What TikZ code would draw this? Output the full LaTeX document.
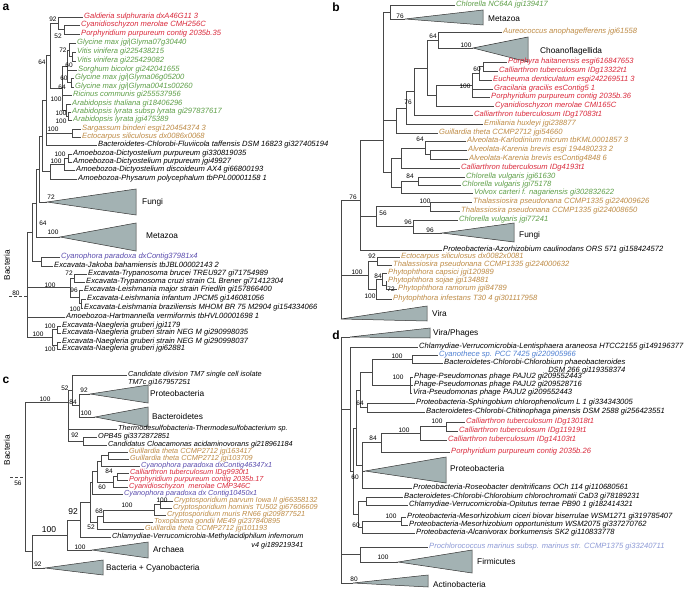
\documentclass[tikz,border=0pt]{standalone}
\usepackage{fontspec}
\setsansfont{Liberation Sans}
\usepackage{xcolor}
\definecolor{tred}{HTML}{DA2A3C}
\definecolor{tgreen}{HTML}{5E9F48}
\definecolor{ttan}{HTML}{BE8B45}
\definecolor{tviolet}{HTML}{5B4DAE}
\definecolor{tblue}{HTML}{4F80D2}
\definecolor{tpale}{HTML}{8D9AD6}
\definecolor{trifill}{HTML}{A3B2B3}
\newcommand{\kids}[2]{\foreach \k in {#2}{\draw[br] (#1) |- (\k);}}
\newcommand{\clade}[5]{\coordinate (#1) at (#2);
  \filldraw[tri] (#1) -- ++(#3,-#4) -- ++(0,#4+#5) -- cycle;}
\newcommand{\bs}[3]{\node[bsv] (#1) at (#2) {#3};}
\begin{document}
\begin{tikzpicture}[x=1pt, y=-1pt,
  br/.style={draw=black!72, line width=0.5pt},
  tri/.style={fill=trifill, draw=black!80, line width=0.5pt},
  leaf/.style={anchor=west, inner xsep=1pt, inner ysep=0pt, text height=5.2pt, text depth=1.4pt,
    font=\sffamily\itshape\fontsize{7.6}{8.5}\selectfont},
  leafc/.style={leaf, text height=5pt, text depth=1.3pt,
    font=\sffamily\itshape\fontsize{7.3}{8}\selectfont},
  grp/.style={anchor=west, inner sep=1pt, font=\sffamily\fontsize{8.3}{9}\selectfont},
  bsv/.style={inner sep=0pt, font=\sffamily\fontsize{6.5}{7}\selectfont},
  bsbig/.style={inner sep=0pt, font=\sffamily\fontsize{8.5}{9}\selectfont},
  plab/.style={inner sep=0pt, font=\sffamily\bfseries\fontsize{12}{12}\selectfont},
  outg/.style={inner sep=0pt, rotate=90, font=\sffamily\fontsize{8.2}{9}\selectfont}]
\fill[white] (0,0) rectangle (685,591);
\useasboundingbox (0,0) rectangle (685,591);

% panel a
\node[plab] (la) at (6,7) {a};
\node[leaf, text=tred] (a1) at (83,17) {Galdieria sulphuraria dxA46G11 3};
\node[leaf, text=tred] (a2) at (80,25) {Cyanidioschyzon merolae CMH256C};
\node[leaf, text=tred] (a3) at (80,34) {Porphyridium purpureum contig 2035b.35};
\node[leaf, text=tgreen] (a4) at (76,43) {Glycine max jgi|Glyma07g30440};
\node[leaf, text=tgreen] (a5) at (76,52) {Vitis vinifera gi225438215};
\node[leaf, text=tgreen] (a6) at (76,61) {Vitis vinifera gi225429082};
\node[leaf, text=tgreen] (a7) at (77,70) {Sorghum bicolor gi242041655};
\node[leaf, text=tgreen] (a8) at (74,78) {Glycine max jgi|Glyma06g05200};
\node[leaf, text=tgreen] (a9) at (74,87) {Glycine max jgi|Glyma0041s00260};
\node[leaf, text=tgreen] (a10) at (72,95) {Ricinus communis gi255537956};
\node[leaf, text=tgreen] (a11) at (71,104) {Arabidopsis thaliana gi18406296};
\node[leaf, text=tgreen] (a12) at (71,112) {Arabidopsis lyrata subsp lyrata gi297837617};
\node[leaf, text=tgreen] (a13) at (72,120) {Arabidopsis lyrata jgi475389};
\node[leaf, text=ttan] (a14) at (81,129) {Sargassum binderi esgi120454374 3};
\node[leaf, text=ttan] (a15) at (81,137) {Ectocarpus siliculosus dx0086x0068};
\node[leaf] (a16) at (97,145) {Bacteroidetes-Chlorobi-Fluviicola taffensis DSM 16823 gi327405194};
\node[leaf] (a17) at (72,154) {Amoebozoa-Dictyostelium purpureum gi330819035};
\node[leaf] (a18) at (72,162) {Amoebozoa-Dictyostelium purpureum jgi49927};
\node[leaf] (a19) at (75,170) {Amoebozoa-Dictyostelium discoideum AX4 gi66800193};
\node[leaf] (a20) at (77,179) {Amoebozoa-Physarum polycephalum tbPPL00001158 1};
\clade{aFun}{47,202}{89}{13}{13}
\node[grp] (aFunL) at (141,202) {Fungi};
\clade{aMet}{60,237}{76}{14}{14}
\node[grp] (aMetL) at (145,236) {Metazoa};
\node[leaf, text=tviolet] (a21) at (60,257) {Cyanophora paradoxa dxContig37981x4};
\node[leaf] (a22) at (53,266) {Excavata-Jakoba bahamiensis tbJBL00002143 2};
\node[leaf] (a23) at (87,274) {Excavata-Trypanosoma brucei TREU927 gi71754989};
\node[leaf] (a24) at (85,282) {Excavata-Trypanosoma cruzi strain CL Brener gi71412304};
\node[leaf] (a25) at (83,290) {Excavata-Leishmania major strain Friedlin gi157866400};
\node[leaf] (a26) at (86,299) {Excavata-Leishmania infantum JPCM5 gi146081056};
\node[leaf] (a27) at (83,308) {Excavata-Leishmania braziliensis MHOM BR 75 M2904 gi154334066};
\node[leaf] (a28) at (65,317) {Amoebozoa-Hartmannella vermiformis tbHVL00001698 1};
\node[leaf] (a29) at (61,326) {Excavata-Naegleria gruberi jgi1179};
\node[leaf] (a30) at (61,333) {Excavata-Naegleria gruberi strain NEG M gi290998035};
\node[leaf] (a31) at (61,342) {Excavata-Naegleria gruberi strain NEG M gi290998037};
\node[leaf] (a32) at (61,349) {Excavata-Naegleria gruberi jgi62881};
\node[outg] (aOutL) at (7,265) {Bacteria};
\coordinate (aR52) at (64,29.5);
\coordinate (aR92) at (58,23);
\coordinate (aG1) at (72,56.5);
\coordinate (aG2) at (69,50);
\coordinate (aG3) at (71,82.5);
\coordinate (aG4) at (67,66);
\coordinate (aA1) at (68,116);
\coordinate (aA2) at (66,110);
\coordinate (aG5) at (62,88);
\coordinate (aRG) at (50,55.5);
\coordinate (aBr) at (72,133);
\coordinate (aU1) at (46,100);
\coordinate (aD1) at (68,158);
\coordinate (aD2) at (64,164);
\coordinate (aD3) at (50,171.5);
\coordinate (aU2) at (42,136);
\coordinate (aU3) at (39,169);
\coordinate (aU4) at (36,203);
\coordinate (aCJ) at (41,261.5);
\coordinate (aU5) at (32,232);
\coordinate (aT1) at (74,278);
\coordinate (aL1) at (81,303.5);
\coordinate (aL2) at (79,297);
\coordinate (aT2) at (70,287.5);
\coordinate (aN1) at (57,329.5);
\coordinate (aN2) at (57,345.5);
\coordinate (aN3) at (52,337.5);
\coordinate (aRt) at (27,285);
\coordinate (aStub) at (27,296);
\coordinate (aOut) at (9,296);
\kids{aR52}{a2,a3}
\kids{aR92}{a1,aR52}
\kids{aG1}{a5,a6}
\kids{aG2}{a4,aG1}
\kids{aG3}{a8,a9}
\kids{aG4}{aG2,a7,aG3}
\kids{aA1}{a12,a13}
\kids{aA2}{a11,aA1}
\kids{aG5}{aG4,a10,aA2}
\kids{aRG}{aR92,aG5}
\kids{aBr}{a14,a15}
\kids{aU1}{aRG,aBr,a16}
\kids{aD1}{a17,a18}
\kids{aD2}{aD1,a19}
\kids{aD3}{aD2,a20}
\kids{aU2}{aU1,aD3}
\kids{aU3}{aU2,aFun}
\kids{aU4}{aU3,aMet}
\kids{aCJ}{a21,a22}
\kids{aU5}{aU4,aCJ}
\kids{aT1}{a23,a24}
\kids{aL1}{a26,a27}
\kids{aL2}{a25,aL1}
\kids{aT2}{aT1,aL2}
\kids{aN1}{a29,a30}
\kids{aN2}{a31,a32}
\kids{aN3}{aN1,aN2}
\kids{aRt}{aU5,aT2,a28,aN3}
\draw[br, densely dashed] (aOut) -- (aStub);
\bs{sa1}{53,19}{92}
\bs{sa2}{58,36}{52}
\bs{sa3}{42,62}{64}
\bs{sa4}{63,50}{72}
\bs{sa5}{69,65}{60}
\bs{sa6}{64,78}{60}
\bs{sa7}{62,87}{64}
\bs{sa8}{56,99}{100}
\bs{sa9}{61,113}{100}
\bs{sa10}{61,121}{100}
\bs{sa11}{53,129}{100}
\bs{sa12}{60,154}{100}
\bs{sa13}{56,161}{100}
\bs{sa14}{51,197}{72}
\bs{sa15}{43,223}{64}
\bs{sa16}{53,232}{100}
\bs{sa17}{69,273}{72}
\bs{sa18}{50,285}{100}
\bs{sa19}{74,290}{96}
\bs{sa20}{75,309}{100}
\bs{sa21}{50,326}{100}
\bs{sa22}{38,334}{100}
\bs{sa23}{50,349}{100}
\bs{sa24}{16,293}{80}

% panel b
\node[plab] (lb) at (336,7) {b};
\node[leaf, text=tgreen] (b1) at (455,5) {Chlorella NC64A jgi139417};
\clade{bMet}{405,19}{78}{9}{6}
\node[grp] (bMetL) at (487,19) {Metazoa};
\node[leaf, text=ttan] (b3) at (502,32) {Aureococcus anophagefferens jgi61558};
\clade{bCho}{473,48}{55}{11}{14}
\node[grp] (bChoL) at (539,51) {Choanoflagellida};
\node[leaf, text=tred] (b5) at (507,62) {Porphyra haitanensis esgi616847653};
\node[leaf, text=tred] (b6) at (498,71) {Calliarthron tuberculosum IDg13322t1};
\node[leaf, text=tred] (b7) at (492,80) {Eucheuma denticulatum esgi242269511 3};
\node[leaf, text=tred] (b8) at (493,89) {Gracilaria gracilis esContig5 1};
\node[leaf, text=tred] (b9) at (490,97) {Porphyridium purpureum contig 2035b.36};
\node[leaf, text=tred] (b10) at (494,106) {Cyanidioschyzon merolae CMI165C};
\node[leaf, text=tred] (b11) at (473,115) {Calliarthron tuberculosum IDg17083t1};
\node[leaf, text=ttan] (b12) at (483,124) {Emiliania huxleyi jgi238877};
\node[leaf, text=ttan] (b13) at (438,133) {Guillardia theta CCMP2712 jgi54660};
\node[leaf, text=ttan] (b14) at (466,141) {Alveolata-Karlodinium micrum tbKML0001857 3};
\node[leaf, text=ttan] (b15) at (467,150) {Alveolata-Karenia brevis esgi 194480233 2};
\node[leaf, text=ttan] (b16) at (468,159) {Alveolata-Karenia brevis esContig4848 6};
\node[leaf, text=tred] (b17) at (460,168) {Calliarthron tuberculosum IDg4193t1};
\node[leaf, text=tgreen] (b18) at (465,177) {Chlorella vulgaris jgi61630};
\node[leaf, text=tgreen] (b19) at (461,185) {Chlorella vulgaris jgi75178};
\node[leaf, text=tgreen] (b20) at (473,193) {Volvox carteri f. nagariensis gi302832622};
\node[leaf, text=ttan] (b21) at (472,202) {Thalassiosira pseudonana CCMP1335 gi224009626};
\node[leaf, text=ttan] (b22) at (460,211) {Thalassiosira pseudonana CCMP1335 gi224008650};
\node[leaf, text=tgreen] (b23) at (458,220) {Chlorella vulgaris jgi77241};
\clade{bFun}{442,233}{72}{10}{9}
\node[grp] (bFunL) at (518,235) {Fungi};
\node[leaf] (b25) at (442,250) {Proteobacteria-Azorhizobium caulinodans ORS 571 gi158424572};
\node[leaf, text=ttan] (b26) at (400,257) {Ectocarpus siliculosus dx0082x0081};
\node[leaf, text=ttan] (b27) at (392,265) {Thalassiosira pseudonana CCMP1335 gi224000632};
\node[leaf, text=ttan] (b28) at (387,273) {Phytophthora capsici jgi120989};
\node[leaf, text=ttan] (b29) at (387,281) {Phytophthora sojae jgi134881};
\node[leaf, text=ttan] (b30) at (397,289) {Phytophthora ramorum jgi84789};
\node[leaf, text=ttan] (b31) at (392,299) {Phytophthora infestans T30 4 gi301117958};
\clade{bVir}{341,319}{86}{13}{2}
\node[grp] (bVirL) at (431,314) {Vira};
\coordinate (bN76) at (390,12);
\coordinate (bN64) at (438,40.5);
\coordinate (bRA) at (483,66.5);
\coordinate (bRB) at (479,73);
\coordinate (bRC) at (472,85);
\coordinate (bRD) at (436,95.5);
\coordinate (bRE) at (427,68);
\coordinate (bRF) at (414,91.5);
\coordinate (bRG) at (406,108);
\coordinate (bRH) at (396,120.5);
\coordinate (bK1) at (430,154.5);
\coordinate (bK2) at (425,148);
\coordinate (bK3) at (401,158);
\coordinate (bC1) at (418,181);
\coordinate (bC2) at (401,187);
\coordinate (bK4) at (391,172.5);
\coordinate (bT1) at (383,140);
\coordinate (bTh) at (430,206.5);
\coordinate (bF96) at (413,226.5);
\coordinate (bS56) at (376,216.5);
\coordinate (bM) at (360,200);
\coordinate (bP92) at (377,261);
\coordinate (bP72) at (386,285);
\coordinate (bP84) at (382,279);
\coordinate (bP100) at (376,289);
\coordinate (bPh) at (368,275);
\coordinate (bRt) at (341,260);
\kids{bN76}{b1,bMet}
\kids{bN64}{b3,bCho}
\kids{bRA}{b5,b6}
\kids{bRB}{bRA,b7}
\kids{bRC}{bRB,b8,b9}
\kids{bRD}{bRC,b10}
\kids{bRE}{bN64,bRD}
\kids{bRF}{bRE,b11}
\kids{bRG}{bRF,b12}
\kids{bRH}{bRG,b13}
\kids{bK1}{b15,b16}
\kids{bK2}{b14,bK1}
\kids{bK3}{bK2,b17}
\kids{bC1}{b18,b19}
\kids{bC2}{bC1,b20}
\kids{bK4}{bK3,bC2}
\kids{bT1}{bN76,bRH,bK4}
\kids{bTh}{b21,b22}
\kids{bF96}{b23,bFun}
\kids{bS56}{bTh,bF96}
\kids{bM}{bT1,bS56,b25}
\kids{bP92}{b26,b27}
\kids{bP72}{b29,b30}
\kids{bP84}{b28,bP72}
\kids{bP100}{bP84,b31}
\kids{bPh}{bP92,bP100}
\kids{bRt}{bM,bPh,bVir}
\bs{sb1}{400,16}{76}
\bs{sb2}{433,36}{64}
\bs{sb3}{466,45}{100}
\bs{sb4}{477,69}{60}
\bs{sb5}{465,86}{100}
\bs{sb6}{408,102}{76}
\bs{sb7}{420,139}{64}
\bs{sb8}{410,176}{84}
\bs{sb9}{425,201}{100}
\bs{sb10}{353,197}{76}
\bs{sb11}{383,213}{56}
\bs{sb12}{408,222}{96}
\bs{sb13}{430,230}{96}
\bs{sb14}{372,256}{92}
\bs{sb15}{357,272}{100}
\bs{sb16}{378,276}{84}
\bs{sb17}{391,289}{72}
\bs{sb18}{370,296}{100}

% panel c
\node[plab] (lc) at (6,380) {c};
\node[leafc] (c1) at (127,375) {Candidate division TM7 single cell isolate};
\node[leafc, anchor=north west] (c1b) at ([yshift=-0.5pt]c1.south west) {TM7c gi167957251};
\clade{cPro}{90,394}{58}{9}{9}
\node[grp] (cProL) at (149,394) {Proteobacteria};
\clade{cBcd}{95,417}{53}{10}{10}
\node[grp] (cBcdL) at (151,417) {Bacteroidetes};
\node[leafc] (c4) at (117,429) {Thermodesulfobacteria-Thermodesulfobacterium sp.};
\node[leafc] (c5) at (97,437) {OPB45 gi3372872851};
\node[leafc] (c6) at (107,445) {Candidatus Cloacamonas acidaminovorans gi218961184};
\node[leafc, text=ttan] (c7) at (128,452) {Guillardia theta CCMP2712 jgi163417};
\node[leafc, text=ttan] (c8) at (129,459) {Guillardia theta CCMP2712 jgi103709};
\node[leafc, text=tviolet] (c9) at (140,466) {Cyanophora paradoxa dxContig46347x1};
\node[leafc, text=tred] (c10) at (129,473) {Calliarthron tuberculosum IDg9930t1};
\node[leafc, text=tred] (c11) at (128,480) {Porphyridium purpureum contig 2035b.17};
\node[leafc, text=tred] (c12) at (128,487) {Cyanidioschyzon\ \ merolae CMP346C};
\node[leafc, text=tviolet] (c13) at (123,494) {Cyanophora paradoxa dx Contig10450x1};
\node[leafc, text=ttan] (c14) at (173,501) {Cryptosporidium parvum Iowa II gi66358132};
\node[leafc, text=ttan] (c15) at (172,508) {Cryptosporidium hominis TU502 gi67606609};
\node[leafc, text=ttan] (c16) at (166,515) {Cryptosporidium muris RN66 gi209877521};
\node[leafc, text=ttan] (c17) at (153,522) {Toxoplasma gondii ME49 gi237840895};
\node[leafc, text=ttan] (c18) at (144,529) {Guillardia theta CCMP2712 jgi101193};
\node[leafc] (c19) at (111,537) {Chlamydiae-Verrucomicrobia-Methylacidiphilum infernorum};
\node[leafc, anchor=north east] (c19b) at ([yshift=-1.5pt]c19.south east) {v4 gi189219341};
\clade{cArc}{92,550}{56}{8}{8}
\node[grp] (cArcL) at (152,550) {Archaea};
\clade{cBC}{45,568}{58}{8}{7}
\node[grp] (cBCL) at (105,568) {Bacteria + Cyanobacteria};
\node[outg] (cOutL) at (7,450) {Bacteria};
\coordinate (cP84) at (79,405.5);
\coordinate (cT52) at (72,390);
\coordinate (cO92) at (83,441);
\coordinate (cC1) at (68,402);
\coordinate (cG1) at (108,455.5);
\coordinate (cG2) at (101,460.75);
\coordinate (cR1) at (117,476.5);
\coordinate (cR2) at (113,481.75);
\coordinate (cG3) at (97,471.25);
\coordinate (cG4) at (92,482.6);
\coordinate (cCr1) at (160,504.5);
\coordinate (cCr2) at (154,510);
\coordinate (cCr3) at (103,516);
\coordinate (cCr4) at (97,522.5);
\coordinate (cC5) at (90,502.5);
\coordinate (cC4) at (80,520);
\coordinate (cC3) at (67,535);
\coordinate (cC2) at (32,551.5);
\coordinate (cRt) at (25,477);
\coordinate (cOut) at (10,477);
\kids{cP84}{cPro,cBcd}
\kids{cT52}{c1,cP84}
\kids{cO92}{c5,c6}
\kids{cC1}{cT52,c4,cO92}
\kids{cG1}{c7,c8}
\kids{cG2}{cG1,c9}
\kids{cR1}{c10,c11}
\kids{cR2}{cR1,c12}
\kids{cG3}{cG2,cR2}
\kids{cG4}{cG3,c13}
\kids{cCr1}{c14,c15}
\kids{cCr2}{cCr1,c16}
\kids{cCr3}{cCr2,c17}
\kids{cCr4}{cCr3,c18}
\kids{cC5}{cG4,cCr4}
\kids{cC4}{cC5,c19}
\kids{cC3}{cC4,cArc}
\kids{cC2}{cC3,cBC}
\kids{cRt}{cC1,cC2}
\draw[br, densely dashed] (cOut) -- (cRt);
\bs{sc1}{65,388}{52}
\bs{sc2}{84,390}{92}
\bs{sc3}{73,402}{84}
\bs{sc4}{45,399}{100}
\bs{sc5}{86,413}{100}
\bs{sc6}{75,435}{92}
\bs{sc7}{109,471}{84}
\bs{sc8}{102,487}{60}
\bs{sc9}{162,500}{100}
\bs{sc10}{127,505}{100}
\bs{sc11}{99,511}{68}
\node[bsbig] (sc12) at (73,512) {92};
\bs{sc13}{91,527}{52}
\node[bsbig] (sc14) at (49,530) {100};
\bs{sc15}{80,547}{100}
\bs{sc16}{38,564}{92}
\bs{sc17}{18,483}{56}

% panel d
\node[plab] (ld) at (336,335) {d};
\clade{dVP}{350,337}{80}{9}{1}
\node[grp] (dVPL) at (432,333) {Vira/Phages};
\node[leaf] (d1) at (418,347) {Chlamydiae-Verrucomicrobia-Lentisphaera araneosa HTCC2155 gi149196377};
\node[leaf, text=tblue] (d2) at (438,355) {Cyanothece sp. PCC 7425 gi220905966};
\node[leaf] (d3) at (443,363) {Bacteroidetes-Chlorobi-Chlorobium phaeobacteroides};
\node[leaf, anchor=north east] (d3b) at ([yshift=-0.5pt]d3.south east) {DSM 266 gi119358374};
\node[leaf] (d4) at (413,377) {Phage-Pseudomonas phage PAJU2 gi209552443};
\node[leaf] (d5) at (413,385) {Phage-Pseudomonas phage PAJU2 gi209528716};
\node[leaf] (d6) at (412,393) {Vira-Pseudomonas phage PAJU2 gi209552443};
\node[leaf] (d7) at (415,403) {Proteobacteria-Sphingobium chlorophenolicum L 1 gi334343005};
\node[leaf] (d8) at (425,412) {Bacteroidetes-Chlorobi-Chitinophaga pinensis DSM 2588 gi256423551};
\node[leaf, text=tred] (d9) at (465,422) {Calliarthron tuberculosum IDg13018t1};
\node[leaf, text=tred] (d10) at (458,431) {Calliarthron tuberculosum IDg11919t1};
\node[leaf, text=tred] (d11) at (447,440) {Calliarthron tuberculosum IDg14103t1};
\node[leaf, text=tred] (d12) at (450,452) {Porphyridium purpureum contig 2035b.26};
\clade{dPro}{365,471}{81}{14}{12}
\node[grp] (dProL) at (449,469) {Proteobacteria};
\node[leaf] (d13) at (412,488) {Proteobacteria-Roseobacter denitrificans OCh 114 gi110680561};
\node[leaf] (d14) at (403,497) {Bacteroidetes-Chlorobi-Chlorobium chlorochromatii CaD3 gi78189231};
\node[leaf] (d15) at (408,505) {Chlamydiae-Verrucomicrobia-Opitutus terrae PB90 1 gi182414321};
\node[leaf] (d16) at (406,517) {Proteobacteria-Mesorhizobium ciceri biovar biserrulae WSM1271 gi319785407};
\node[leaf] (d17) at (408,525) {Proteobacteria-Mesorhizobium opportunistum WSM2075 gi337270762};
\node[leaf] (d18) at (415,533) {Proteobacteria-Alcanivorax borkumensis SK2 gi110833778};
\node[leaf, text=tpale] (d19) at (428,547) {Prochlorococcus marinus subsp. marinus str. CCMP1375 gi33240711};
\clade{dFir}{398,562}{74}{12}{11}
\node[grp] (dFirL) at (476,562) {Firmicutes};
\clade{dAct}{353,583}{75}{8}{4}
\node[grp] (dActL) at (432,585) {Actinobacteria};
\coordinate (dCy) at (412,359);
\coordinate (dPh) at (410,385);
\coordinate (dCP) at (372,372);
\coordinate (dSp) at (367,407.5);
\coordinate (dA1) at (360,390);
\coordinate (dCa1) at (446,426.5);
\coordinate (dCa2) at (420,433);
\coordinate (dCa3) at (381,442.5);
\coordinate (dC60) at (362,465);
\coordinate (dA2) at (356,428);
\coordinate (dCo) at (366,501);
\coordinate (dMe) at (401,521);
\coordinate (dM60) at (362,527);
\coordinate (dCM) at (358,514);
\coordinate (dA3) at (353,471);
\coordinate (dA4) at (350,409);
\coordinate (dFP) at (360,554.5);
\coordinate (dRt) at (341,460);
\kids{dCy}{d2,d3}
\kids{dPh}{d4,d5,d6}
\kids{dCP}{dCy,dPh}
\kids{dSp}{d7,d8}
\kids{dA1}{dCP,dSp}
\kids{dCa1}{d9,d10}
\kids{dCa2}{dCa1,d11}
\kids{dCa3}{dCa2,d12}
\kids{dC60}{dCa3,dPro,d13}
\kids{dA2}{dA1,dC60}
\kids{dCo}{d14,d15}
\kids{dMe}{d16,d17}
\kids{dM60}{dMe,d18}
\kids{dCM}{dCo,dM60}
\kids{dA3}{dA2,dCM}
\kids{dA4}{d1,dA3}
\kids{dFP}{d19,dFir}
\kids{dRt}{dVP,dA4,dFP,dAct}
\bs{sd1}{397,356}{100}
\bs{sd2}{398,377}{100}
\bs{sd3}{360,403}{64}
\bs{sd4}{437,421}{100}
\bs{sd5}{404,430}{100}
\bs{sd6}{373,438}{84}
\bs{sd7}{355,477}{60}
\bs{sd8}{391,516}{100}
\bs{sd9}{356,525}{60}
\bs{sd10}{383,557}{100}
\bs{sd11}{354,579}{80}
\end{tikzpicture}
\end{document}
